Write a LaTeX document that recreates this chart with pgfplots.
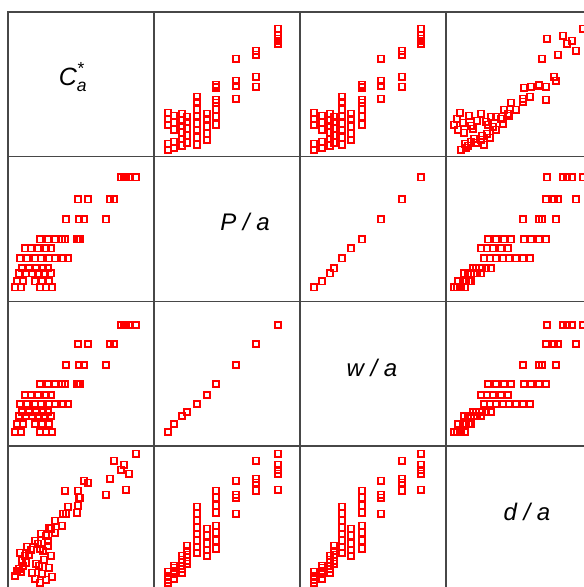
\documentclass[border=0pt]{standalone}
\usepackage{pgfplots}
\pgfplotsset{compat=1.18}
\usepackage{pgfplotstable}
\usepackage{amsmath}
\usepackage{fontspec}
\setmainfont{Liberation Sans}

\pgfplotstableread{
C P W D
128 124 121 137
113 124 121 121
116 124 121 126
121 124 121 117
118 124 121 101
106 102 102 130
102 102 102 112
80 102 102 108
70 102 102 100
98 82 81 96
76 82 81 110
71 82 81 93
58 82 81 77
57 62 62 100
72 62 62 93
70 62 62 85
69 62 62 78
54 62 62 65
47 62 62 58
40 62 62 50
32 62 62 42
17 53 51 35
23 53 51 41
30 53 51 47
38 53 51 55
43 53 51 62
12 43 42 38
19 43 42 44
27 43 42 50
33 43 42 57
41 43 42 63
47 43 42 70
55 43 42 77
60 43 42 84
14 33 34 30
21 33 34 36
28 33 34 27
35 33 34 40
40 33 34 45
11 28 30 22
18 28 30 28
24 28 30 18
31 28 30 25
36 28 30 31
43 28 30 35
9 20 22 20
15 20 22 25
27 20 22 12
34 20 22 17
41 20 22 23
7 14 14 15
13 14 14 19
32 14 14 8
38 14 14 11
44 14 14 14
}\spm

\pgfplotsset{
  cell/.style={scale only axis, width=146pt, height=144.7pt,
    xmin=0, xmax=146, ymin=0, ymax=144.7,
    xtick=\empty, ytick=\empty, anchor=south west,
    axis line style={draw=black!72, line width=1.6pt}},
  pts/.style={only marks, mark=square, mark size=2.9pt, color=red,
    every mark/.append style={line width=1.7pt, fill=none, yscale=1.12}}
}

\begin{document}
\begin{tikzpicture}[x=1pt,y=1pt]
\useasboundingbox (0,0) rectangle (584,587);
\clip (0,0) rectangle (584,587);
% row 1 (C)
\begin{axis}[cell, at={(8pt,430.3pt)}]\end{axis}
\begin{axis}[cell, at={(154pt,430.3pt)}]\addplot[pts] table[x=P,y=C]{\spm};\end{axis}
\begin{axis}[cell, at={(300pt,430.3pt)}]\addplot[pts] table[x=W,y=C]{\spm};\end{axis}
\begin{axis}[cell, at={(446pt,430.3pt)}]\addplot[pts] table[x=D,y=C]{\spm};\end{axis}
% row 2 (P)
\begin{axis}[cell, at={(8pt,285.6pt)}]\addplot[pts] table[x=C,y=P]{\spm};\end{axis}
\begin{axis}[cell, at={(154pt,285.6pt)}]\end{axis}
\begin{axis}[cell, at={(300pt,285.6pt)}]\addplot[pts] table[x=W,y=P]{\spm};\end{axis}
\begin{axis}[cell, at={(446pt,285.6pt)}]\addplot[pts] table[x=D,y=P]{\spm};\end{axis}
% row 3 (W)
\begin{axis}[cell, at={(8pt,140.9pt)}]\addplot[pts] table[x=C,y=W]{\spm};\end{axis}
\begin{axis}[cell, at={(154pt,140.9pt)}]\addplot[pts] table[x=P,y=W]{\spm};\end{axis}
\begin{axis}[cell, at={(300pt,140.9pt)}]\end{axis}
\begin{axis}[cell, at={(446pt,140.9pt)}]\addplot[pts] table[x=D,y=W]{\spm};\end{axis}
% row 4 (D)
\begin{axis}[cell, at={(8pt,-3.8pt)}]\addplot[pts] table[x=C,y=D]{\spm};\end{axis}
\begin{axis}[cell, at={(154pt,-3.8pt)}]\addplot[pts] table[x=P,y=D]{\spm};\end{axis}
\begin{axis}[cell, at={(300pt,-3.8pt)}]\addplot[pts] table[x=W,y=D]{\spm};\end{axis}
\begin{axis}[cell, at={(446pt,-3.8pt)}]\end{axis}
% labels
\node[font=\fontsize{25}{30}\selectfont] at (73,510) {$\textit{C}^{\textit{*}}_{\textit{a}}$};
\node[font=\itshape\fontsize{24}{28}\selectfont] at (245,365) {P / a};
\node[font=\itshape\fontsize{24}{28}\selectfont] at (372,219) {w / a};
\node[font=\itshape\fontsize{24}{28}\selectfont] at (527,75) {d / a};
\end{tikzpicture}
\end{document}
